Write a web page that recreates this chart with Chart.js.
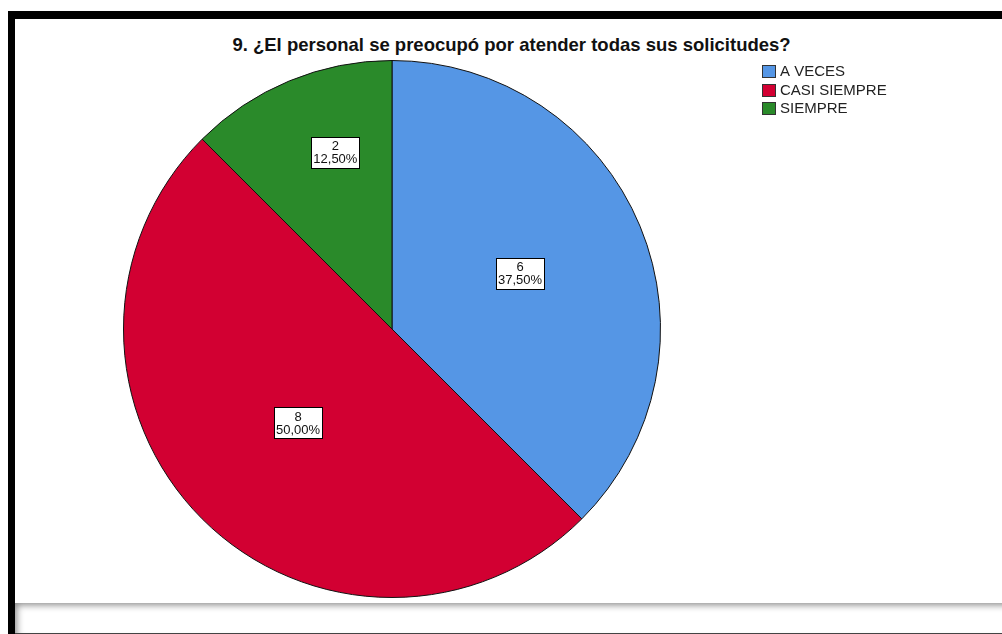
<!DOCTYPE html>
<html>
<head>
<meta charset="utf-8">
<script src="https://cdn.jsdelivr.net/npm/chart.js@4.4.1/dist/chart.umd.min.js"></script>
<style>
  html, body { margin: 0; padding: 0; background: #fff; }
  body { width: 1002px; height: 634px; position: relative; overflow: hidden; font-family: "Liberation Sans", Arial, sans-serif; }
  #marco { position: absolute; left: 8px; top: 11px; width: 1100px; height: 700px;
           border-left: 7px solid #000; border-top: 8px solid #000; box-sizing: border-box; }
  #pie { position: absolute; left: 15px; top: 603px; width: 1000px; height: 30px;
         border-bottom: 1px solid #444; box-shadow: inset 4px 4px 7px -2px #8a8a8a; background: #fff; }
  #titolo { position: absolute; left: 0; width: 1023px; top: 34px; text-align: center;
            font: bold 18.5px "Liberation Sans", Arial, sans-serif; color: #111; letter-spacing: 0; }
  #grafico { position: absolute; left: 0; top: 0; }
</style>
</head>
<body>
<div id="marco"></div>
<div id="pie"></div>
<div id="titolo">9. ¿El personal se preocupó por atender todas sus solicitudes?</div>
<canvas id="grafico" width="1002" height="634"></canvas>
<script>
// Categorie e frequenze
const categorie = ['A VECES', 'CASI SIEMPRE', 'SIEMPRE'];
const frequenze = [6, 8, 2];
const percentuali = ['37,50%', '50,00%', '12,50%'];
const colori = ['#5596e5', '#d20032', '#2a8a2a'];
// posizione delle etichette: frazione del raggio e spostamento angolare (gradi)
const distanzeEtichette = [0.52, 0.495, 0.69];
const angoliEtichette = [-1, 0, 4.7];

// Plugin per le etichette con riquadro e la legenda
const etichettePlugin = {
    id: 'etichette',
    afterDraw(chart) {
        const ctx = chart.ctx;
        const arcs = chart.getDatasetMeta(0).data;
        ctx.save();
        ctx.font = '13px "Liberation Sans", Arial, sans-serif';
        ctx.textAlign = 'center';
        ctx.textBaseline = 'middle';
        arcs.forEach((arc, i) => {
            const mid = (arc.startAngle + arc.endAngle) / 2 + angoliEtichette[i] * Math.PI / 180;
            const r = arc.outerRadius * distanzeEtichette[i];
            const x = arc.x + Math.cos(mid) * r;
            const y = arc.y + Math.sin(mid) * r;
            const w = Math.max(ctx.measureText(percentuali[i]).width, ctx.measureText(String(frequenze[i])).width) + 4;
            const h = 31;
            const bx = Math.round(x - w / 2) + 0.5, by = Math.round(y - h / 2) + 0.5;
            ctx.fillStyle = '#fff';
            ctx.fillRect(bx, by, Math.round(w), h);
            ctx.strokeStyle = '#000';
            ctx.lineWidth = 1;
            ctx.strokeRect(bx, by, Math.round(w), h);
            ctx.fillStyle = '#111';
            ctx.fillText(String(frequenze[i]), x, y - 6);
            ctx.fillText(percentuali[i], x, y + 7);
        });

        // legenda
        ctx.textAlign = 'left';
        ctx.font = '15px "Liberation Sans", Arial, sans-serif';
        categorie.forEach((c, i) => {
            const y = 71 + i * 18.5;
            ctx.fillStyle = colori[i];
            ctx.fillRect(762.5, Math.round(y - 6) + 0.5, 13, 12);
            ctx.strokeStyle = '#333';
            ctx.strokeRect(762.5, Math.round(y - 6) + 0.5, 13, 12);
            ctx.fillStyle = '#222';
            ctx.fillText(c, 780, y + 1);
        });
        ctx.restore();
    }
};

new Chart(document.getElementById('grafico'), {
    type: 'pie',
    data: {
        labels: categorie,
        datasets: [{
            data: frequenze,
            backgroundColor: colori,
            borderColor: '#111',
            borderWidth: 1
        }]
    },
    options: {
        responsive: false,
        animation: false,
        layout: { padding: { left: 123, right: 341, top: 60, bottom: 36 } },
        plugins: {
            legend: { display: false },
            tooltip: { enabled: false }
        }
    },
    plugins: [etichettePlugin]
});
</script>
</body>
</html>
